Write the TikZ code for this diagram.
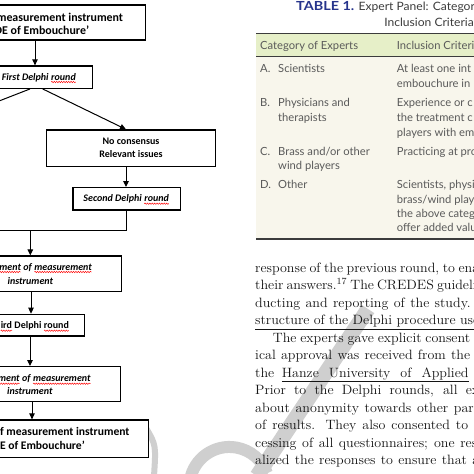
\documentclass[tikz,border=0pt]{standalone}
\usepackage{fontspec}
\usetikzlibrary{arrows.meta,decorations.pathmorphing}
\newfontfamily\flowfont{Carlito}
\newfontfamily\tabfont{Lato}
\newfontfamily\titlefont[FakeStretch=1.15]{Lato}
\newfontfamily\captfont[FakeStretch=1.05]{Lato}
\newfontfamily\bodyfont[FakeStretch=1.04]{Latin Modern Roman}
\definecolor{tblue}{HTML}{26348C}
\definecolor{hdrgreen}{HTML}{E6EFC8}
\definecolor{bodybeige}{HTML}{F8F6EC}
\definecolor{tgrey}{HTML}{5A5A5A}
\definecolor{rulegrey}{HTML}{3C3C3C}
\definecolor{wmgrey}{HTML}{CFCFCF}
\definecolor{bodyblack}{HTML}{141414}
\newcommand\redwave[1]{\tikz[baseline=(sqw.base)]{\node[inner sep=0pt,outer sep=0pt,anchor=base,draw=none](sqw){#1};\draw[red, line width=0.45pt, decorate, decoration={snake,segment length=2.4pt,amplitude=0.7pt}] ([yshift=-2pt]sqw.base west) -- ([yshift=-2pt]sqw.base east);}}
\begin{document}
\begin{tikzpicture}[x=1pt,y=-1pt,
  fbox/.style={draw=black, line width=1.3pt, fill=white, inner sep=0pt},
  ftxt/.style={inner sep=0pt, font=\flowfont\bfseries\fontsize{10}{12}\selectfont},
  fbig/.style={inner sep=0pt, font=\flowfont\bfseries\fontsize{11.9}{14}\selectfont},
  fbot/.style={inner sep=0pt, font=\flowfont\bfseries\fontsize{11.6}{14}\selectfont},
  arr/.style={line width=1pt, -{Triangle[length=6pt,width=5.5pt]}},
  conn/.style={line width=1pt},
  ttxt/.style={inner sep=0pt, anchor=base west, text=tgrey,
    font=\tabfont\fontsize{11.2}{14.5}\selectfont},
  btxt/.style={inner sep=0pt, anchor=base west, text=bodyblack,
    font=\bodyfont\fontsize{13.5}{17.5}\selectfont},
  wm/.style={draw=wmgrey, line width=15pt}]
\useasboundingbox (0,0) rectangle (474,474);
\clip (0,0) rectangle (474,474);
\fill[white] (0,0) rectangle (474,474);

% ---- watermark
\draw[wm] (368,309) -- (257,476);
\draw[wm, line width=12pt] (190,480) arc[start angle=190, end angle=340, radius=40];
\draw[wm, line width=6pt] (146,428) .. controls (156,445) .. (154,476);

% ---- flowchart boxes
\node[fbox, minimum width=205.3pt, minimum height=35pt] (b1) at (42.65,22.5) {};
\node[fbox, minimum width=152.3pt, minimum height=22.3pt] (b2) at (16.15,77.15) {};
\node[fbox, minimum width=169.4pt, minimum height=36.7pt] (b3) at (131,148.35) {};
\node[fbox, minimum width=107.3pt, minimum height=22.3pt] (b4) at (126.65,198.85) {};
\node[fbox, minimum width=181.3pt, minimum height=35.7pt] (b5) at (30.65,273.85) {};
\node[fbox, minimum width=144.3pt, minimum height=21.7pt] (b6) at (12.15,325.15) {};
\node[fbox, minimum width=180.7pt, minimum height=35pt] (b7) at (30.35,384.2) {};
\node[fbox, minimum width=208.3pt, minimum height=37.3pt] (b8) at (44.15,438.65) {};

% ---- flowchart texts
\node[fbig, anchor=base east] (t1a) at (123.3,21) {measurement instrument};
\node[fbig, anchor=base east] (t1b) at (89.3,34.3) {DE of Embouchure’};
\node[ftxt, anchor=base west] (t2) at (1.7,80) {\itshape First Delphi \redwave{round}};
\node[ftxt, anchor=base] (t3a) at (131,144.7) {No consensus};
\node[ftxt, anchor=base] (t3b) at (131,157.3) {Relevant issues};
\node[ftxt, anchor=base] (t4) at (126.3,201.7) {\itshape Second Delphi \redwave{round}};
\node[ftxt, anchor=base east] (t5a) at (92.3,270) {\itshape \redwave{ment} of \redwave{measurement}};
\node[ftxt, anchor=base east] (t5b) at (53.3,284) {\itshape instrument};
\node[ftxt, anchor=base east] (t6) at (69.3,328.7) {\redwave{ird} Delphi \redwave{round}};
\node[ftxt, anchor=base east] (t7a) at (91,381.7) {\itshape \redwave{ment} of \redwave{measurement}};
\node[ftxt, anchor=base east] (t7b) at (52.7,394.3) {\itshape instrument};
\node[fbot, anchor=base east] (t8a) at (129.7,435.7) {f measurement instrument};
\node[fbot, anchor=base east] (t8b) at (85,449) {E of Embouchure’};

% ---- connectors
\coordinate (c1) at (35,0);
\coordinate (c2) at (30,0);
\coordinate (c3) at (42.7,0);
\coordinate (c4) at (126,0);
\coordinate (c5) at (31,0);
\coordinate (c6) at (30,0);
\coordinate (c7) at (32,0);
\coordinate (lb) at (-60,124);
\coordinate (jl) at (-60,230);
\coordinate (j) at (30.3,230);
\draw[arr] (b1.south -| c1) -- (b2.north -| c1);
\draw[conn] (b2.south -| c2) -- (lb);
\draw[arr] (b2.south -| c3) -- (b3.north -| c4);
\draw[arr] (b3.south -| c4) -- (b4.north -| c4);
\draw[conn] (b4.south -| c4) |- (jl);
\draw[arr] (j) -- (b5.north -| j);
\draw[arr] (b5.south -| c5) -- (b6.north -| c5);
\draw[arr] (b6.south -| c6) -- (b7.north -| c6);
\draw[arr] (b7.south -| c7) -- (b8.north -| c7);

% ---- table
\node[inner sep=0pt, anchor=base west, text=tblue, font=\titlefont\bfseries\fontsize{12.5}{14}\selectfont] (tt1) at (296,10.7) {TABLE 1.};
\node[inner sep=0pt, anchor=base west, text=rulegrey, font=\captfont\fontsize{11.5}{14}\selectfont] (tt2) at (358.5,10.7) {Expert Panel: Categori};
\node[inner sep=0pt, anchor=base east, text=rulegrey, font=\captfont\fontsize{11.5}{14}\selectfont] (tt3) at (474,26.7) {Inclusion Criteria};
\fill[hdrgreen] (256,33.3) rectangle (474,56.7);
\fill[bodybeige] (256,56.7) rectangle (474,239);
\draw[rulegrey, line width=1.2pt] (256,33.3) -- (474,33.3);
\draw[rulegrey, line width=0.7pt] (256,56.7) -- (474,56.7);
\draw[rulegrey, line width=1.6pt] (256,239) -- (474,239);
\node[ttxt] (h1) at (260,49.3) {Category of Experts};
\node[ttxt] (h2) at (396.7,49.3) {Inclusion Criteri};
\node[ttxt] (la) at (260,72.7) {A.};
\node[ttxt] (ca) at (278,72.7) {Scientists};
\node[ttxt] (ia1) at (396.7,72.7) {At least one int};
\node[ttxt] (ia2) at (396.7,87.3) {embouchure in};
\node[ttxt] (lbb) at (260,106.3) {B.};
\node[ttxt] (cb1) at (278,106.3) {Physicians and};
\node[ttxt] (cb2) at (278,121.3) {therapists};
\node[ttxt] (ib1) at (396.7,106.3) {Experience or c};
\node[ttxt] (ib2) at (396.7,121.3) {the treatment c};
\node[ttxt] (ib3) at (396.7,136) {players with em};
\node[ttxt] (lc) at (260,155.3) {C.};
\node[ttxt] (cc1) at (278,155.3) {Brass and/or other};
\node[ttxt] (cc2) at (278,169.7) {wind players};
\node[ttxt] (ic) at (396.7,155.3) {Practicing at pro};
\node[ttxt] (ld) at (260,188.7) {D.};
\node[ttxt] (cd) at (278,188.7) {Other};
\node[ttxt] (id1) at (396.7,188.7) {Scientists, physi};
\node[ttxt] (id2) at (396.7,203) {brass/wind play};
\node[ttxt] (id3) at (396.7,217.3) {the above categ};
\node[ttxt] (id4) at (396.7,231.7) {offer added valu};

% ---- body text
\node[btxt] (p1) at (255,272.3) {\makebox[224pt][s]{response of the previous round, to ena}};
\node[btxt] (p2) at (255,289.8) {\makebox[219pt][s]{their answers.\textsuperscript{17} The CREDES guideli}};
\node[btxt] (p3) at (255,307.3) {\makebox[215.5pt][s]{ducting and reporting of the study.}};
\node[btxt] (p4) at (255,324.8) {\underline{\makebox[224pt][s]{structure of the Delphi procedure use}}};
\node[btxt] (p5) at (272.7,342.3) {\makebox[197.3pt][s]{The experts gave explicit consent}};
\node[btxt] (p6) at (255,359.8) {\makebox[215pt][s]{ical approval was received from the}};
\node[btxt] (p7) at (255,377.3) {\makebox[213.3pt][s]{the \underline{\makebox[186.6pt][s]{Hanze University of Applied}}}};
\node[btxt] (p8) at (255,394.8) {\makebox[224pt][s]{Prior to the Delphi rounds, all ex}};
\node[btxt] (p9) at (255,412.3) {\makebox[224pt][s]{about anonymity towards other part}};
\node[btxt] (p10) at (255,429.8) {\makebox[213pt][s]{of results. They also consented to}};
\node[btxt] (p11) at (255,447.3) {\makebox[222pt][s]{cessing of all questionnaires; one res}};
\node[btxt] (p12) at (255,464.8) {\makebox[224pt][s]{alized the responses to ensure that a}};
\end{tikzpicture}
\end{document}
